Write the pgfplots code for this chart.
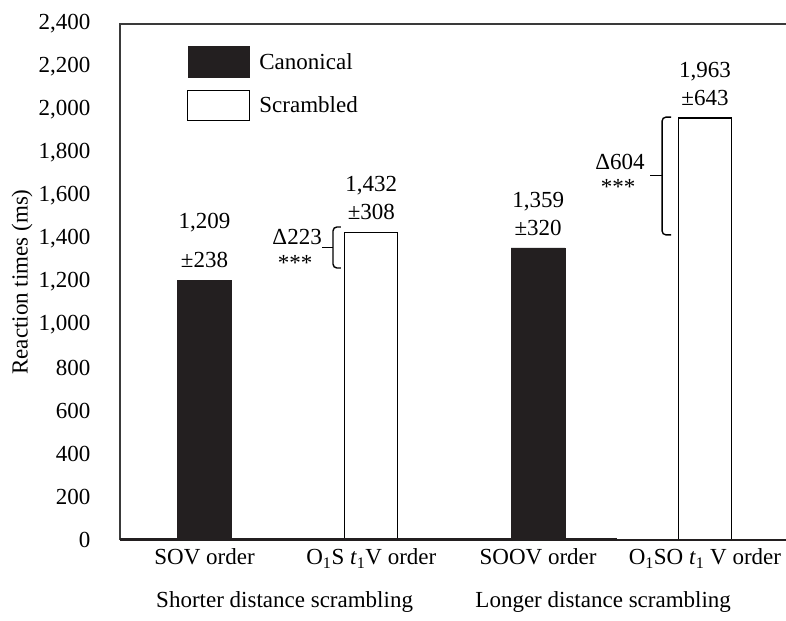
\documentclass[border=0pt]{standalone}
\usepackage{fontspec}
\setmainfont{Liberation Serif}
\usepackage{pgfplots}
\pgfplotsset{compat=1.18}
\definecolor{barblack}{HTML}{231F20}
\definecolor{axgray}{HTML}{3A3A3A}
\newcommand{\fs}{\fontsize{23}{28}\selectfont}
\begin{document}
\begin{tikzpicture}[font=\fs]
\begin{axis}[
  name=ax,
  scale only axis,
  width=666pt, height=516pt,
  xmin=-0.507, xmax=3.486,
  ymin=0, ymax=2400,
  clip=false,
  axis line style={draw=none},
  ytick={0,200,...,2400},
  xtick={0,1,2,3},
  xticklabels={SOV order, O\textsubscript{1}S \textit{t}\textsubscript{1}V order, SOOV order, O\textsubscript{1}SO \textit{t}\textsubscript{1} V order},
  major tick length=0pt,
  tick style={draw=none},
  ticklabel style={font=\fs},
  yticklabel style={xshift=-26pt},
  xticklabel style={yshift=-5pt},
  /pgf/number format/1000 sep={,},
  /pgf/number format/assume math mode=true,
  ylabel={Reaction times (ms)},
  ylabel style={at={(axis description cs:-0.147,0.5)}, anchor=center, font=\fs},
  legend style={at={(axis description cs:0.1006,0.957)}, anchor=north west, draw=none, fill=none, inner sep=0pt, row sep=12pt, column sep=7pt, font=\fs},
  legend cell align=left,
]
\addplot[ybar, bar width=54pt, bar shift=0pt, fill=barblack, draw=barblack,
  legend image code/.code={\draw[fill=barblack,draw=barblack] (0pt,-15.5pt) rectangle (61pt,15.5pt);},
  point meta=explicit symbolic, nodes near coords,
  nodes near coords style={align=center, anchor=south, inner sep=0pt, yshift=12pt, font=\fs}]
  coordinates {(0,1209) [{1,209\\[11pt]±238}] (2,1359) [{1,359\\±320}]};
\addlegendentry{Canonical}
\addplot[ybar, bar width=53pt, bar shift=0pt, fill=white, draw=black, line width=1.2pt,
  legend image code/.code={\draw[fill=white,draw=black,line width=1.2pt] (0pt,-15pt) rectangle (62pt,15pt);},
  point meta=explicit symbolic, nodes near coords,
  nodes near coords style={align=center, anchor=south, inner sep=0pt, yshift=12pt, font=\fs}]
  coordinates {(1,1432) [{1,432\\±308}] (3,1963) [{1,963\\±643}]};
\addlegendentry{Scrambled}
% frame
\draw[axgray, line width=1.2pt] (rel axis cs:0,0) -- (rel axis cs:0,1) -- (rel axis cs:1,1);
\draw[barblack, line width=3pt] (rel axis cs:0,0) -- (rel axis cs:0.746,0);
\draw[barblack, line width=2pt] (rel axis cs:0.746,0) -- (rel axis cs:1,0);
% brackets
\draw[line width=1.4pt, rounded corners=4pt] ([xshift=8pt]axis cs:0.77,1456) -- (axis cs:0.77,1456) -- (axis cs:0.77,1265) -- ([xshift=8pt]axis cs:0.77,1265);
\draw[line width=1.4pt] (axis cs:0.77,1360) -- ([xshift=-11pt]axis cs:0.77,1360);
\draw[line width=1.4pt, rounded corners=4pt] ([xshift=9pt]axis cs:2.743,1967) -- (axis cs:2.743,1967) -- (axis cs:2.743,1419) -- ([xshift=9pt]axis cs:2.743,1419);
\draw[line width=1.4pt] (axis cs:2.743,1695) -- ([xshift=-12pt]axis cs:2.743,1695);
\node[anchor=east, inner sep=0pt] at (axis cs:0.704,1409) {Δ223};
\node[inner sep=0pt] at (axis cs:0.543,1290) {***};
\node[anchor=east, inner sep=0pt] at (axis cs:2.64,1758) {Δ604};
\node[inner sep=0pt] at (axis cs:2.479,1643) {***};
% group labels
\node[yshift=-62pt] at (axis cs:0.48,0) {Shorter distance scrambling};
\node[yshift=-62pt] at (axis cs:2.39,0) {Longer distance scrambling};
\end{axis}
\pgfresetboundingbox
\path ([xshift=-120pt,yshift=-81pt]ax.south west) rectangle ([yshift=24pt]ax.north east);
\end{tikzpicture}
\end{document}
